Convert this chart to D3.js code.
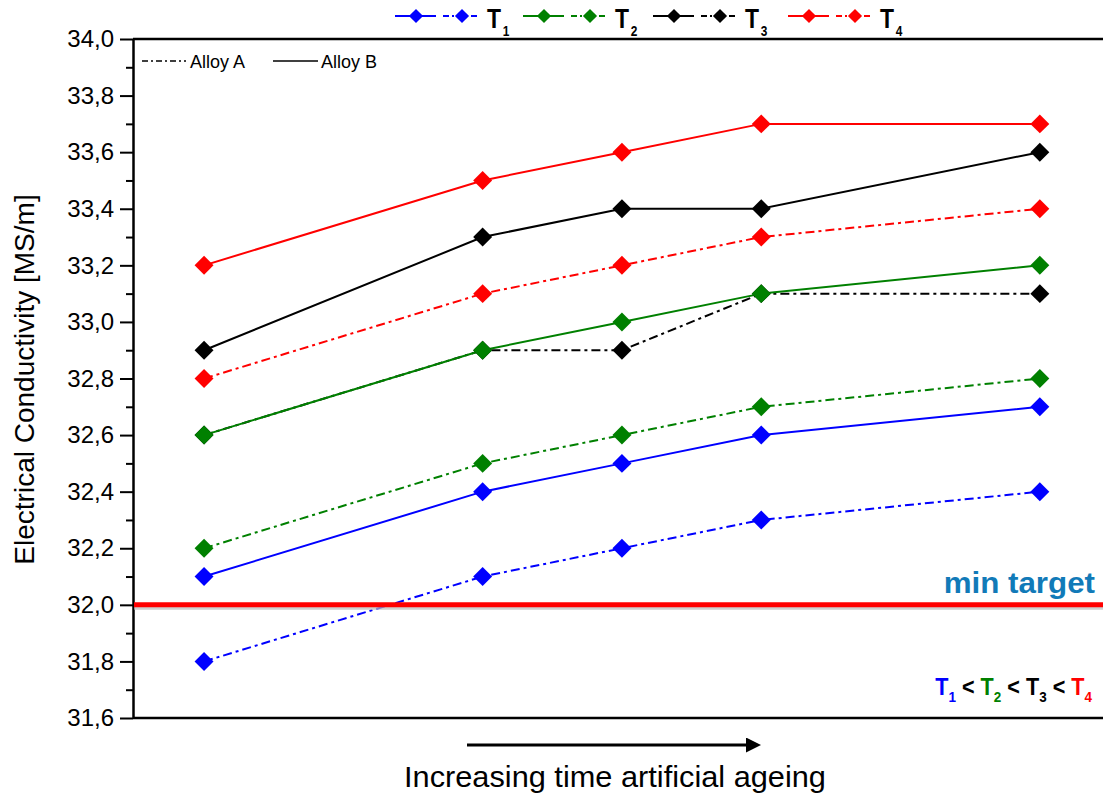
<!DOCTYPE html>
<html>
<head>
<meta charset="utf-8">
<script src="https://cdn.jsdelivr.net/npm/d3@7"></script>
<style>
  body { margin: 0; background: #fff; }
  text { font-family: "Liberation Sans", Arial, sans-serif; }
  .narrow { font-family: "Liberation Sans Narrow", "Arial Narrow", "Liberation Sans", sans-serif; font-weight: bold; }
</style>
</head>
<body>
<svg id="canvas"></svg>
<script>
// ---------- data ----------
var times = [0, 2, 3, 4, 6];            // ageing steps (no axis shown)
var t1A = [31.8, 32.1, 32.2, 32.3, 32.4];
var t1B = [32.1, 32.4, 32.5, 32.6, 32.7];
var t2A = [32.2, 32.5, 32.6, 32.7, 32.8];
var t2B = [32.6, 32.9, 33.0, 33.1, 33.2];
var t3A = [32.6, 32.9, 32.9, 33.1, 33.1];
var t3B = [32.9, 33.3, 33.4, 33.4, 33.6];
var t4A = [32.8, 33.1, 33.2, 33.3, 33.4];
var t4B = [33.2, 33.5, 33.6, 33.7, 33.7];
var minTarget = 32.0;
var yTicks = [31.6, 31.8, 32.0, 32.2, 32.4, 32.6, 32.8, 33.0, 33.2, 33.4, 33.6, 33.8, 34.0];
var tempLabels = ["1", "2", "3", "4"];
var tempColors = ["#0000ff", "#008000", "#000000", "#ff0000"];

var w = 1103, h = 794;
var mLeft = 133, mTop = 39, mBottom = 718;
var dashDot = "9,4,3,4";

var svg = d3.select("#canvas").attr("width", w).attr("height", h);

var x = d3.scaleLinear().domain([-0.51, 6.5]).range([mLeft, mLeft + 7.01 * 139.3]);
var y = d3.scaleLinear().domain([31.6, 34.0]).range([mBottom, mTop]);

var series = [
  { v: t1A, c: tempColors[0], dash: dashDot },
  { v: t2A, c: tempColors[1], dash: dashDot },
  { v: t1B, c: tempColors[0], dash: null },
  { v: t3A, c: tempColors[2], dash: dashDot },
  { v: t2B, c: tempColors[1], dash: null },
  { v: t4A, c: tempColors[3], dash: dashDot },
  { v: t3B, c: tempColors[2], dash: null },
  { v: t4B, c: tempColors[3], dash: null }
];

// ---------- frame ----------
svg.append("line").attr("x1", mLeft).attr("x2", w).attr("y1", mTop).attr("y2", mTop)
  .attr("stroke", "#000").attr("stroke-width", 2.5);
svg.append("line").attr("x1", mLeft).attr("x2", w).attr("y1", mBottom).attr("y2", mBottom)
  .attr("stroke", "#000").attr("stroke-width", 2.5);

var fmt = function (d) { return d3.format(".1f")(d).replace(".", ","); };

var minor = d3.range(31.7, 34.0, 0.2);
svg.append("g").attr("transform", "translate(" + mLeft + ",0)")
  .call(d3.axisLeft(y).tickValues(minor).tickSize(7).tickFormat(""))
  .call(function (g) { g.select(".domain").remove(); })
  .selectAll("line").attr("stroke-width", 2);

var yAxis = svg.append("g").attr("transform", "translate(" + mLeft + ",0)")
  .call(d3.axisLeft(y).tickValues(yTicks).tickSize(13).tickSizeOuter(0).tickPadding(6).tickFormat(fmt));
yAxis.select(".domain").attr("stroke-width", 2.5);
yAxis.selectAll("line").attr("stroke-width", 2);
yAxis.selectAll("text").attr("font-size", 24).attr("fill", "#000")
  .style("font-family", "'Liberation Sans', Arial, sans-serif");

svg.append("text")
  .attr("transform", "translate(34," + ((mTop + mBottom) / 2 + 1) + ") rotate(-90)")
  .attr("text-anchor", "middle").attr("font-size", 28)
  .text("Electrical Conductivity [MS/m]");

// ---------- series ----------
var line = d3.line().x(function (d, i) { return x(times[i]); }).y(function (d) { return y(d); });

svg.selectAll(".series").data(series).enter().append("path")
  .attr("class", "series")
  .attr("d", function (d) { return line(d.v); })
  .attr("fill", "none")
  .attr("stroke", function (d) { return d.c; })
  .attr("stroke-width", 2)
  .attr("stroke-dasharray", function (d) { return d.dash; });

// min target
svg.append("line").attr("x1", mLeft + 1).attr("x2", w).attr("y1", y(minTarget) + 3).attr("y2", y(minTarget) + 3)
  .attr("stroke", "#bbb").attr("stroke-width", 4).attr("opacity", 0.7);
svg.append("line").attr("x1", mLeft + 1).attr("x2", w).attr("y1", y(minTarget)).attr("y2", y(minTarget))
  .attr("stroke", "#ff0000").attr("stroke-width", 5);
svg.append("text").attr("transform", "translate(1095," + (y(minTarget) - 12) + ") scale(1.08,1)")
  .attr("text-anchor", "end").attr("font-size", 29).attr("font-weight", "bold")
  .attr("fill", "#117ab8").text("min target");

// markers
var diamond = d3.symbol().type(d3.symbolSquare).size(180);
series.forEach(function (s) {
  svg.append("g").selectAll("path").data(s.v).enter().append("path")
    .attr("d", diamond)
    .attr("transform", function (d, i) { return "translate(" + x(times[i]) + "," + y(d) + ") rotate(45)"; })
    .attr("fill", s.c);
});

// ---------- inner legend ----------
svg.append("line").attr("x1", 142).attr("x2", 186).attr("y1", 61).attr("y2", 61)
  .attr("stroke", "#000").attr("stroke-width", 1.5).attr("stroke-dasharray", "6,3,2,3");
svg.append("text").attr("x", 190).attr("y", 68).attr("font-size", 18).text("Alloy A");
svg.append("line").attr("x1", 273).attr("x2", 318).attr("y1", 61).attr("y2", 61)
  .attr("stroke", "#000").attr("stroke-width", 1.5);
svg.append("text").attr("x", 321).attr("y", 68).attr("font-size", 18).text("Alloy B");

// ---------- top legend ----------
var small = d3.symbol().type(d3.symbolSquare).size(100);
var legStart = [395, 523, 653, 788];
tempLabels.forEach(function (lab, i) {
  var x0 = legStart[i], ly = 16;
  var g = svg.append("g");
  g.append("line").attr("x1", x0).attr("x2", x0 + 41).attr("y1", ly).attr("y2", ly)
    .attr("stroke", tempColors[i]).attr("stroke-width", 2);
  g.append("path").attr("d", small).attr("transform", "translate(" + (x0 + 21) + "," + ly + ") rotate(45)")
    .attr("fill", tempColors[i]);
  g.append("line").attr("x1", x0 + 48).attr("x2", x0 + 84).attr("y1", ly).attr("y2", ly)
    .attr("stroke", tempColors[i]).attr("stroke-width", 2).attr("stroke-dasharray", "6,3,2,3");
  g.append("path").attr("d", small).attr("transform", "translate(" + (x0 + 67) + "," + ly + ") rotate(45)")
    .attr("fill", tempColors[i]);
  var t = g.append("text").attr("class", "narrow")
    .attr("transform", "translate(" + (x0 + 92) + ",28) scale(0.85,1)").attr("font-size", 27).text("T");
  t.append("tspan").attr("font-size", 14).attr("dx", 2).attr("dy", 8).text(lab);
});

// ---------- T order note ----------
var note = svg.append("text").attr("class", "narrow")
  .attr("transform", "translate(1092,695) scale(0.9,1)")
  .attr("text-anchor", "end").attr("font-size", 24);
tempLabels.forEach(function (lab, i) {
  note.append("tspan").attr("fill", tempColors[i]).text("T");
  note.append("tspan").attr("fill", tempColors[i]).attr("font-size", 15).attr("dy", 7).text(lab);
  if (i < 3) note.append("tspan").attr("fill", "#000").attr("dy", -7).text(" < ");
});

// ---------- ageing arrow ----------
svg.append("defs").append("marker").attr("id", "arrow")
  .attr("viewBox", "0 0 10 10").attr("refX", 0).attr("refY", 5)
  .attr("markerWidth", 6).attr("markerHeight", 5).attr("markerUnits", "strokeWidth")
  .attr("orient", "auto")
  .append("path").attr("d", "M0,0L10,5L0,10Z").attr("fill", "#000");
svg.append("line").attr("x1", 467).attr("x2", 746).attr("y1", 745).attr("y2", 745)
  .attr("stroke", "#000").attr("stroke-width", 3).attr("marker-end", "url(#arrow)");
svg.append("text").attr("transform", "translate(615,787) scale(1.06,1)").attr("text-anchor", "middle")
  .attr("font-size", 29).text("Increasing time artificial ageing");
</script>
</body>
</html>
